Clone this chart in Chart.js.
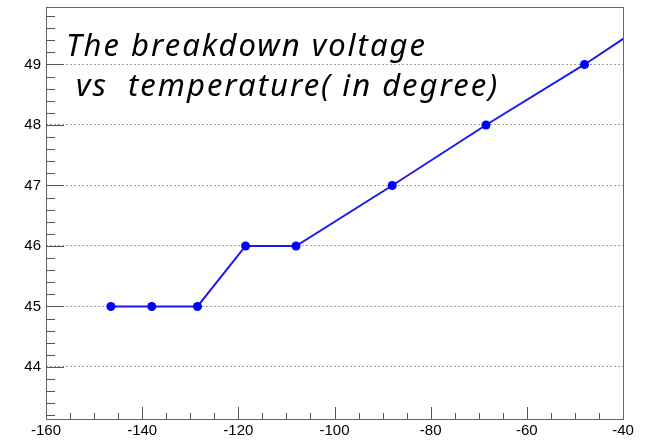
<!DOCTYPE html>
<html>
<head>
<meta charset="utf-8">
<script src="https://cdn.jsdelivr.net/npm/chart.js@4.4.1/dist/chart.umd.min.js"></script>
<style>
  html, body { margin: 0; padding: 0; background: #fff; }
  #chart { display: block; }
</style>
</head>
<body>
<canvas id="chart" width="652" height="441"></canvas>
<script>
// temperature in degree, breakdown voltage in V
const temperature = [-146.5, -138, -128.5, -118.5, -108, -88, -68.5, -48, -29];
const voltage = [45, 45, 45, 46, 46, 47, 48, 49, 50];

const titleLines = ['The breakdown voltage', ' vs  temperature( in degree)'];

const xMin = -160;
const xMax = -40;
const yMin = 43.14;
const yMax = 49.95;

// ROOT-like frame with ticks pointing into the pad
const framePlugin = {
  id: 'frame',
  afterDatasetsDraw(chart) {
    const { ctx, chartArea: a, scales } = chart;
    const x = scales.x;
    const y = scales.y;
    ctx.save();
    ctx.strokeStyle = '#555';
    ctx.lineWidth = 1;
    ctx.beginPath();
    for (let v = xMin; v <= xMax + 0.001; v += 5) {
      const px = Math.round(x.getPixelForValue(v)) + 0.5;
      const len = Math.abs(v % 20) < 0.001 ? 12 : 6;
      ctx.moveTo(px, a.bottom);
      ctx.lineTo(px, a.bottom - len);
    }
    for (let i = Math.ceil(yMin * 5); i <= Math.floor(yMax * 5); i++) {
      const v = i / 5;
      const py = Math.round(y.getPixelForValue(v)) + 0.5;
      const len = i % 5 === 0 ? 18 : 9;
      ctx.moveTo(a.left, py);
      ctx.lineTo(a.left + len, py);
    }
    ctx.stroke();

    ctx.strokeStyle = '#666';
    ctx.strokeRect(Math.round(a.left) + 0.5, Math.round(a.top) + 0.5,
      Math.round(a.right - a.left), Math.round(a.bottom - a.top));
    ctx.restore();
  },
};

const titlePlugin = {
  id: 'padTitle',
  afterDraw(chart) {
    const { ctx } = chart;
    ctx.save();
    ctx.fillStyle = '#000';
    ctx.font = 'italic 31px "Noto Sans"';
    ctx.letterSpacing = '2px';
    ctx.textBaseline = 'alphabetic';
    ctx.fillText(titleLines[0], 66, 56);
    ctx.fillText(titleLines[1], 66, 96);
    ctx.restore();
  },
};

const points = temperature.map((t, i) => ({ x: t, y: voltage[i] }));

new Chart(document.getElementById('chart'), {
  type: 'line',
  data: {
    datasets: [
      {
        data: points,
        borderColor: '#1a1aef',
        backgroundColor: '#0000ff',
        borderWidth: 2,
        pointRadius: 4.5,
        pointBorderWidth: 0,
        tension: 0,
      },
    ],
  },
  options: {
    responsive: false,
    animation: false,
    layout: { padding: { top: 7, right: 29, left: 0, bottom: 0 } },
    plugins: {
      legend: { display: false },
      tooltip: { enabled: false },
    },
    scales: {
      x: {
        type: 'linear',
        min: xMin,
        max: xMax,
        ticks: {
          stepSize: 20,
          padding: 3,
          color: '#000',
          font: { family: '"Liberation Sans", Arial, sans-serif', size: 15 },
          maxRotation: 0,
          autoSkip: false,
        },
        grid: { display: false, drawTicks: false },
        border: { display: false },
        afterFit(scale) {
          scale.height = 22;
          scale.paddingLeft = 0;
          scale.paddingRight = 0;
        },
      },
      y: {
        type: 'linear',
        min: yMin,
        max: yMax,
        ticks: {
          stepSize: 1,
          includeBounds: false,
          padding: 5,
          color: '#000',
          font: { family: '"Liberation Sans", Arial, sans-serif', size: 15 },
        },
        grid: { color: '#a0a0a0', lineWidth: 1, drawTicks: false },
        border: { display: false, dash: [2, 2] },
        afterFit(scale) {
          scale.width = 46;
          scale.paddingTop = 0;
          scale.paddingBottom = 0;
        },
      },
    },
  },
  plugins: [framePlugin, titlePlugin],
});
</script>
</body>
</html>
